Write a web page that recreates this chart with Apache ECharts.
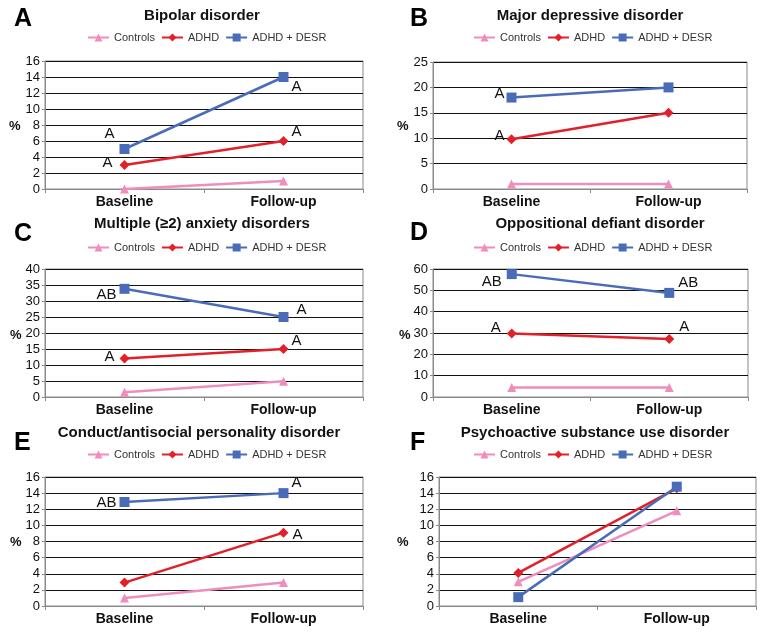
<!DOCTYPE html>
<html>
<head>
<meta charset="utf-8">
<script src="https://cdn.jsdelivr.net/npm/echarts@6/dist/echarts.min.js"></script>
<style>
html,body{margin:0;padding:0;background:#fff;}
#chart{width:767px;height:635px;}
</style>
</head>
<body>
<div id="chart"></div>
<script>
// ---- data ----
const categories = ['Baseline', 'Follow-up'];
const seriesNames = ['Controls', 'ADHD', 'ADHD + DESR'];
const panelLetters = ['A', 'B', 'C', 'D', 'E', 'F'];
const panelTitles = ['Bipolar disorder', 'Major depressive disorder', 'Multiple (\u22652) anxiety disorders',
  'Oppositional defiant disorder', 'Conduct/antisocial personality disorder', 'Psychoactive substance use disorder'];
const yMaxes = [16, 25, 40, 60, 16, 16];
const yIntervals = [2, 5, 5, 10, 2, 2];
const yAxisName = '%';

const A_controls = [0, 1];
const A_adhd = [3, 6];
const A_desr = [5, 14];
const B_controls = [1, 1];
const B_adhd = [9.8, 15];
const B_desr = [18, 20];
const C_controls = [1.5, 4.9];
const C_adhd = [12, 15];
const C_desr = [33.8, 25];
const D_controls = [4.5, 4.5];
const D_adhd = [29.8, 27.2];
const D_desr = [57.6, 48.8];
const E_controls = [1, 2.9];
const E_adhd = [2.9, 9.1];
const E_desr = [12.9, 14];
const F_controls = [3, 11.8];
const F_adhd = [4.1, 14.6];
const F_desr = [1.1, 14.8];

// significance letters per point ('' = none)
const A_adhdSig = ['A', 'A'];
const A_desrSig = ['A', 'A'];
const B_adhdSig = ['A', ''];
const B_desrSig = ['A', ''];
const C_adhdSig = ['A', 'A'];
const C_desrSig = ['AB', 'A'];
const D_adhdSig = ['A', 'A'];
const D_desrSig = ['AB', 'AB'];
const E_adhdSig = ['', 'A'];
const E_desrSig = ['AB', 'A'];
const F_adhdSig = ['', ''];
const F_desrSig = ['', ''];

// ---- layout / style ----
const controlsSeries = [A_controls, B_controls, C_controls, D_controls, E_controls, F_controls];
const adhdSeries = [A_adhd, B_adhd, C_adhd, D_adhd, E_adhd, F_adhd];
const desrSeries = [A_desr, B_desr, C_desr, D_desr, E_desr, F_desr];
const adhdSigs = [A_adhdSig, B_adhdSig, C_adhdSig, D_adhdSig, E_adhdSig, F_adhdSig];
const desrSigs = [A_desrSig, B_desrSig, C_desrSig, D_desrSig, E_desrSig, F_desrSig];

const grids = [
  {left: 45, top: 61, width: 318, height: 128},
  {left: 433, top: 62, width: 314, height: 127},
  {left: 45, top: 269, width: 318, height: 128},
  {left: 433, top: 269, width: 315, height: 128},
  {left: 45, top: 477, width: 318, height: 129},
  {left: 439, top: 477, width: 317, height: 129}
];
const titleCenters = [[202, 16], [590, 16], [202, 224], [600, 224], [199, 433], [595, 433]];
const legendCenters = [[200, 38], [586, 38], [200, 248], [586, 248], [200, 455], [586, 455]];
const letterPos = [[23, 19], [419, 19], [23, 234], [419, 233], [23, 443], [419, 443]];
const pctPos = [[15, 127], [403, 127], [16, 336], [405, 336], [16, 543], [403, 543]];

// label offsets [dx, dy] relative to the marker centre
const adhdOffsets = [[[-17, -2], [13, -9]], [[-12, -3], [0, 0]], [[-15, -2], [13, -8]], [[-16, -6], [15, -12]], [[0, 0], [14, 2]], [[0, 0], [0, 0]]];
const desrOffsets = [[[-15, -15], [13, 10]], [[-12, -4], [0, 0]], [[-18, 6], [18, -7]], [[-20, 8], [19, -10]], [[-18, 1], [13, -10]], [[0, 0], [0, 0]]];

const colControls = '#ef8dbd';
const colAdhd = '#e2202a';
const colDesr = '#4a6cb8';
const FONT = '"Liberation Sans", Arial, sans-serif';

function withLabels(values, sigs, offsets) {
  return values.map((v, i) => ({
    value: v,
    label: {
      show: !!sigs[i], formatter: sigs[i], position: 'inside', offset: offsets[i],
      color: '#111', fontSize: 15, fontFamily: FONT, align: 'center', verticalAlign: 'middle'
    }
  }));
}

const option = {
  animation: false,
  backgroundColor: '#fff',
  title: [], legend: [], grid: [], xAxis: [], yAxis: [], series: [], graphic: []
};

for (let p = 0; p < 6; p++) {
  const g = grids[p];
  option.grid.push({left: g.left, top: g.top, width: g.width, height: g.height, show: true,
    borderColor: '#8a8a8a', borderWidth: 1, containLabel: false});
  option.title.push({text: panelTitles[p], left: titleCenters[p][0], top: titleCenters[p][1], textAlign: 'center',
    textVerticalAlign: 'middle', padding: 0,
    textStyle: {fontFamily: FONT, fontSize: 15, fontWeight: 'bold', color: '#111'}});
  option.legend.push({data: seriesNames, left: legendCenters[p][0] - 113, top: legendCenters[p][1] - 6,
    itemWidth: 21, itemHeight: 10, itemGap: 6, padding: 0,
    textStyle: {fontFamily: FONT, fontSize: 11, color: '#333'}});
  option.xAxis.push({type: 'category', gridIndex: p, data: categories, boundaryGap: true,
    axisLine: {lineStyle: {color: '#8a8a8a', width: 1}},
    axisTick: {show: true, length: 4, lineStyle: {color: '#8a8a8a'}},
    axisLabel: {fontFamily: FONT, fontSize: 14, fontWeight: 'bold', color: '#111', margin: 6},
    splitLine: {show: false}});
  option.yAxis.push({type: 'value', gridIndex: p, min: 0, max: yMaxes[p], interval: yIntervals[p],
    axisLine: {show: true, lineStyle: {color: '#8a8a8a', width: 1}},
    axisTick: {show: true, length: 3, lineStyle: {color: '#8a8a8a'}},
    axisLabel: {fontFamily: FONT, fontSize: 13, color: '#111', margin: 5},
    splitLine: {show: true, lineStyle: {color: '#111', width: 1}}});
  const common = {type: 'line', xAxisIndex: p, yAxisIndex: p, z: 3};
  option.series.push(Object.assign({}, common, {name: seriesNames[0], data: controlsSeries[p],
    symbol: 'triangle', symbolSize: 9, color: colControls, lineStyle: {width: 2.5, color: colControls},
    itemStyle: {color: colControls}}));
  option.series.push(Object.assign({}, common, {name: seriesNames[1], data: withLabels(adhdSeries[p], adhdSigs[p], adhdOffsets[p]),
    symbol: 'diamond', symbolSize: 10, color: colAdhd, lineStyle: {width: 2.5, color: colAdhd},
    itemStyle: {color: colAdhd}}));
  option.series.push(Object.assign({}, common, {name: seriesNames[2], data: withLabels(desrSeries[p], desrSigs[p], desrOffsets[p]),
    symbol: 'rect', symbolSize: 10, color: colDesr, lineStyle: {width: 2.5, color: colDesr},
    itemStyle: {color: colDesr}}));
  option.graphic.push({type: 'text', left: letterPos[p][0] - 9, top: letterPos[p][1] - 12,
    style: {text: panelLetters[p], font: 'bold 25px ' + FONT, fill: '#000'}});
  option.graphic.push({type: 'text', left: pctPos[p][0] - 6, top: pctPos[p][1] - 7,
    style: {text: yAxisName, font: 'bold 13px ' + FONT, fill: '#111'}});
}

const chart = echarts.init(document.getElementById('chart'), null, {renderer: 'canvas'});
chart.setOption(option);
</script>
</body>
</html>
